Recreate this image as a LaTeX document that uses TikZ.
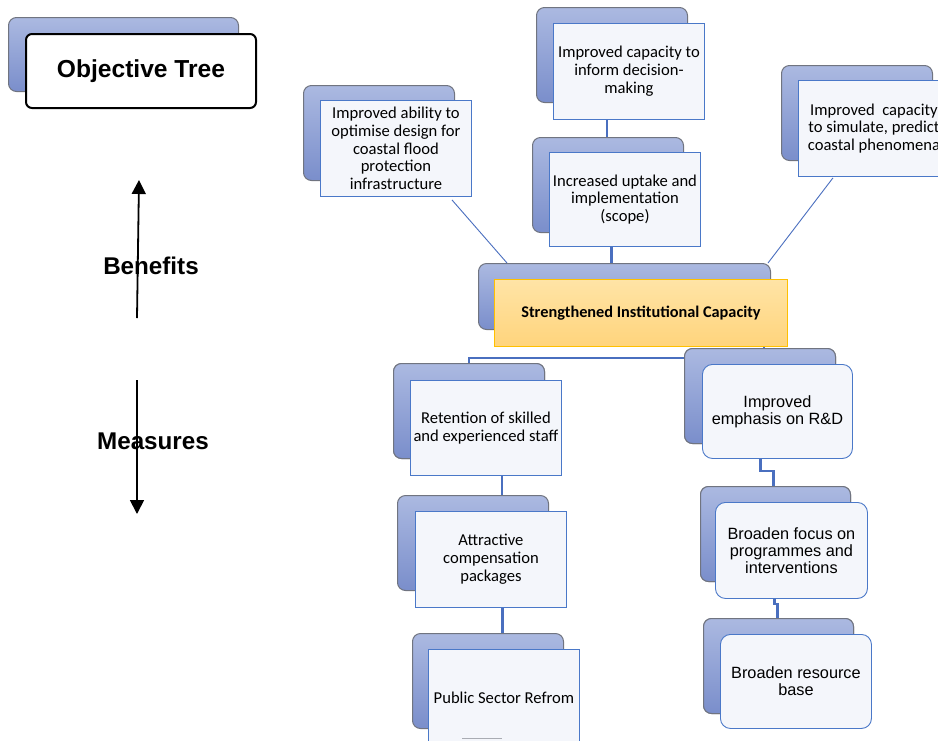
\documentclass[tikz,border=0pt]{standalone}
\usepackage{fontspec}
\setmainfont{Carlito}
\newfontfamily\arialfont{Liberation Sans}
\usetikzlibrary{arrows.meta,calc}

\definecolor{backtop}{HTML}{ABB9E1}
\definecolor{backbot}{HTML}{7A8ECB}
\definecolor{backedge}{HTML}{707480}
\definecolor{frontfill}{HTML}{F4F6FB}
\definecolor{frontedge}{HTML}{4A78C8}
\definecolor{linkblue}{HTML}{4A6FBF}
\definecolor{goldtop}{HTML}{FFE4A6}
\definecolor{goldbot}{HTML}{FFD47C}
\definecolor{goldedge}{HTML}{FFC000}

\tikzset{
  backbox/.style={draw=backedge, line width=1pt, rounded corners=8pt,
    top color=backtop, bottom color=backbot, anchor=north west,
    minimum width=151pt, minimum height=95pt, inner sep=0pt},
  frontsq/.style={draw=frontedge, line width=0.9pt, fill=frontfill,
    anchor=north west, minimum width=151pt, minimum height=96pt,
    align=center, inner sep=2pt, font=\fontsize{16.6}{17.8}\selectfont},
  frontrd/.style={frontsq, rounded corners=10pt,
    font=\arialfont\fontsize{16.3}{16.8}\selectfont},
  link/.style={draw=linkblue, line width=2.2pt},
  thinlink/.style={draw=linkblue, line width=0.9pt},
  sidearrow/.style={draw=black, line width=1.8pt,
    -{Triangle[length=14pt,width=14pt]}},
  sidelabel/.style={font=\arialfont\bfseries\fontsize{24.2}{26}\selectfont},
}

\begin{document}
\begin{tikzpicture}[x=1pt,y=-1pt]
\useasboundingbox (0,0) rectangle (938,740);
\clip (0,0) rectangle (938,740);
\fill[white] (0,0) rectangle (938,740);

% title card
\node[backbox, minimum width=230pt, minimum height=74pt] (bobj) at (8,17) {};
\node[draw=black, line width=2pt, rounded corners=6pt, fill=white,
      anchor=north west, minimum width=230pt, minimum height=74pt,
      font=\arialfont\bfseries\fontsize{24.6}{27}\selectfont] (fobj) at (25,33) {Objective Tree};

% direction arrows
\coordinate (benA) at (137,318);
\coordinate (benB) at (139,180);
\coordinate (meaA) at (137,380);
\coordinate (meaB) at (137,514);
\draw[sidearrow] (benA) -- (benB);
\draw[sidearrow] (meaA) -- (meaB);
\node[sidelabel] (lben) at (151,266) {Benefits};
\node[sidelabel] (lmea) at (153,441) {Measures};

% loose end of a link leaving the bottom edge
\coordinate (stubA) at (462,738);
\coordinate (stubB) at (502,738);

% benefit boxes
\node[backbox] (bleft) at (303,85) {};
\node[frontsq] (fleft) at (320,100) {Improved ability to\\optimise design for\\coastal flood\\protection\\infrastructure};

\node[backbox] (binf) at (536,7) {};
\node[frontsq] (finf) at (553,23) {Improved capacity to\\inform decision-\\making};

\node[backbox] (bupt) at (532,137) {};
\node[frontsq, minimum height=94pt] (fupt) at (549,152) {Increased uptake and\\implementation\\(scope)};

\node[backbox] (bright) at (781,65) {};
\node[frontsq] (fright) at (798,80) {Improved~~capacity\\to simulate, predict\\coastal phenomena};

% core box
\node[backbox, minimum width=292pt, minimum height=66pt] (bcen) at (478,263) {};

% links between benefit boxes and core
\draw[link] ([xshift=-22pt]finf.south) -- ([xshift=-22pt]finf.south |- bupt.north);
\draw[link] ([xshift=-13.5pt]fupt.south) -- ([xshift=-13.5pt]fupt.south |- bcen.north);
\draw[thinlink] ([xshift=56pt,yshift=-3pt]fleft.south) -- ([xshift=29pt]bcen.north west);
\draw[thinlink] ([xshift=-41pt,yshift=-1pt]fright.south) -- ([xshift=-3pt]bcen.north east);

\node[draw=goldedge, line width=1pt, top color=goldtop, bottom color=goldbot,
      anchor=north west, minimum width=293pt, minimum height=67pt,
      font=\bfseries\fontsize{16.3}{18}\selectfont] (fcen) at (494,279) {Strengthened Institutional Capacity};

% measure boxes: left column
\node[backbox] (bret) at (393,363) {};
\node[backbox] (brd) at (684,348) {};
\draw[link] ([xshift=-24pt]fcen.south east) -- ++(0,11) -| (bret.north);
\node[backbox] (bret) at (393,363) {};
\node[frontsq, minimum height=95pt] (fret) at (410,380) {Retention of skilled\\and experienced staff};

\node[backbox] (batt) at (397,495) {};
\node[frontsq] (fatt) at (415,511) {Attractive\\compensation\\packages};
\draw[link] ([xshift=16pt]fret.south) -- ([xshift=16pt]fret.south |- batt.north);

\node[backbox] (bpub) at (412,633) {};
\draw[link] ([xshift=11.5pt]fatt.south) -- ([xshift=11.5pt]fatt.south |- bpub.north);
\node[frontsq] (fpub) at (428,649) {Public Sector Refrom};
\draw[draw=backedge!60, line width=1pt] (stubA) -- (stubB);

% measure boxes: right column
\node[backbox] (brd) at (684,348) {};
\node[frontrd, minimum width=150pt, minimum height=94pt] (frd) at (702,364) {Improved\\emphasis on R\&D};

\node[backbox, minimum width=150pt] (bfoc) at (700,486) {};
\draw[link] ([xshift=-17pt]frd.south) -- ++(0,12) -| ([xshift=-2pt]bfoc.north);
\node[backbox, minimum width=150pt] (bfoc) at (700,486) {};
\node[frontrd, minimum width=152pt] (ffoc) at (715,502) {Broaden focus on\\programmes and\\interventions};

\node[backbox, minimum width=150pt] (bres) at (703,618) {};
\draw[link] ([xshift=-17pt]ffoc.south) -- ++(0,5) -| ([xshift=-1pt]bres.north);
\node[backbox, minimum width=150pt] (bres) at (703,618) {};
\node[frontrd, minimum height=94pt] (fres) at (720,634) {Broaden resource\\base};
\end{tikzpicture}
\end{document}
